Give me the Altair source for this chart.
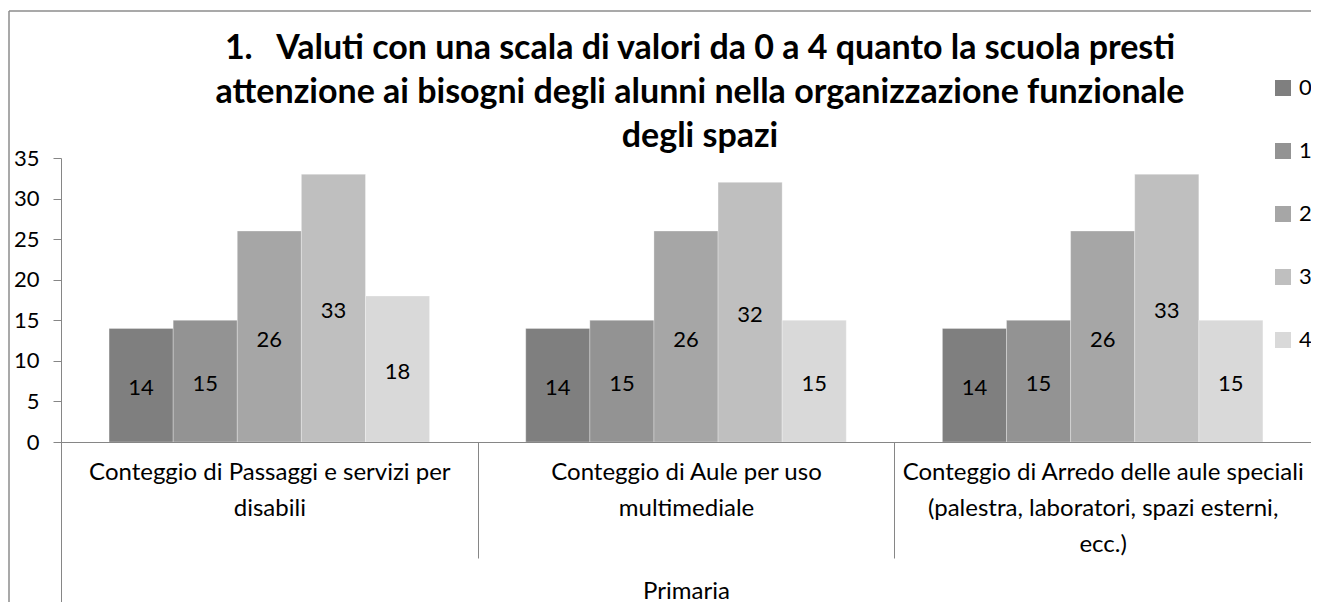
import altair as alt
import pandas as pd

# ---- data ----
categories = [
    "Conteggio di Passaggi e servizi per\ndisabili",
    "Conteggio di Aule per uso\nmultimediale",
    "Conteggio di Arredo delle aule speciali\n(palestra, laboratori, spazi esterni,\necc.)",
]
series = ["0", "1", "2", "3", "4"]
values_0 = [14, 14, 14]
values_1 = [15, 15, 15]
values_2 = [26, 26, 26]
values_3 = [33, 32, 33]
values_4 = [18, 15, 15]
group_label = ["Primaria"]
colors = ["#7f7f7f", "#939393", "#a6a6a6", "#bfbfbf", "#d9d9d9"]
title_lines = [
    "1.\u00a0\u00a0\u00a0Valuti con una scala di valori da 0 a 4 quanto la scuola presti",
    "attenzione ai bisogni degli alunni nella organizzazione funzionale",
    "degli spazi",
]

all_values = [values_0, values_1, values_2, values_3, values_4]
rows = []
for s, vals in zip(series, all_values):
    for c, v in zip(categories, vals):
        rows.append({"categoria": c, "serie": s, "valore": v, "livello": group_label[0]})
df = pd.DataFrame(rows)

FONT = "Lato"
W, H = 1250, 284
GRAY = "#868686"
CAT_FS = 24
NUM_FS = 22

cat_axis = alt.Axis(
    title=None,
    orient="bottom",
    labelExpr="split(datum.label, '\\n')",
    labelAngle=0,
    labelFont=FONT,
    labelFontSize=CAT_FS,
    labelColor="#000000",
    labelLineHeight=36,
    labelLimit=420,
    labelOverlap=False,
    labelPadding=-98,
    labelBaseline="top",
    tickBand="extent",
    tickSize=116,
    tickColor=GRAY,
    domainColor=GRAY,
    zindex=1,
)
xoff = alt.XOffset(
    "serie:N", sort=series,
    scale=alt.Scale(type="band", paddingOuter=0.75, paddingInner=0),
)
xscale = alt.Scale(paddingInner=0, paddingOuter=0)

y_axis = alt.Axis(
    title=None,
    orient="left",
    values=[0, 5, 10, 15, 20, 25, 30, 35],
    grid=False,
    labelFont=FONT,
    labelFontSize=NUM_FS,
    labelColor="#000000",
    labelPadding=14,
    tickSize=8,
    tickColor=GRAY,
    domainColor=GRAY,
    zindex=1,
)
y_scale = alt.Scale(domain=[0, 35], nice=False)

bars = alt.Chart(df).mark_bar(stroke="#ffffff", strokeWidth=0.6, strokeOpacity=0.5).encode(
    x=alt.X("categoria:N", sort=categories, scale=xscale, axis=cat_axis),
    xOffset=xoff,
    y=alt.Y("valore:Q", scale=y_scale, axis=y_axis),
    color=alt.Color(
        "serie:N",
        sort=series,
        scale=alt.Scale(domain=series, range=colors),
        legend=alt.Legend(
            title=None,
            orient="none",
            legendX=1211,
            legendY=-81,
            symbolType="square",
            symbolSize=256,
            symbolStrokeWidth=0,
            labelFont=FONT,
            labelFontSize=NUM_FS,
            labelColor="#000000",
            labelOffset=5,
            rowPadding=41,
            padding=0,
        ),
    ),
)

texts = alt.Chart(df).transform_calculate(meta="datum.valore / 2").mark_text(
    font=FONT, fontSize=NUM_FS, color="#000000", dy=3
).encode(
    x=alt.X("categoria:N", sort=categories, scale=xscale, axis=None),
    xOffset=xoff,
    y=alt.Y("meta:Q", scale=y_scale, axis=y_axis),
    text=alt.Text("valore:Q"),
)

outer_axis = alt.Chart(df).mark_tick(opacity=0).encode(
    x=alt.X(
        "livello:N",
        scale=alt.Scale(paddingInner=0, paddingOuter=0),
        axis=alt.Axis(
            title=None,
            orient="bottom",
            labelAngle=0,
            labelFont=FONT,
            labelFontSize=CAT_FS,
            labelColor="#000000",
            labelPadding=-33,
            labelBaseline="top",
            tickBand="extent",
            tickSize=170,
            tickColor=GRAY,
            domainColor=GRAY,
            zindex=1,
        ),
    ),
    y=alt.Y("valore:Q", scale=y_scale, axis=y_axis),
)

border_df = pd.DataFrame({"f": [0]})
border_top = alt.Chart(border_df).mark_rule(color="#8c8c8c", strokeWidth=1.5).encode(
    x=alt.value(-52), x2=alt.value(1400), y=alt.value(-147)
)
border_left = alt.Chart(border_df).mark_rule(color="#8c8c8c", strokeWidth=1.5).encode(
    x=alt.value(-52), y=alt.value(-147), y2=alt.value(800)
)

chart = alt.layer(bars, texts, outer_axis, border_top, border_left).resolve_scale(
    x="independent"
).properties(
    width=W,
    height=H,
    background="white",
    autosize=alt.AutoSizeParams(type="none"),
    padding={"left": 53, "top": 150, "right": 0, "bottom": 160},
    title=alt.TitleParams(
        text=title_lines,
        font=FONT,
        fontSize=34,
        fontWeight="bold",
        color="#000000",
        lineHeight=44,
        anchor="middle",
        dx=14,
        dy=144,
        offset=0,
    ),
).configure_view(stroke=None)

chart.save("out.html", embed_options={"renderer": "svg", "actions": False})
